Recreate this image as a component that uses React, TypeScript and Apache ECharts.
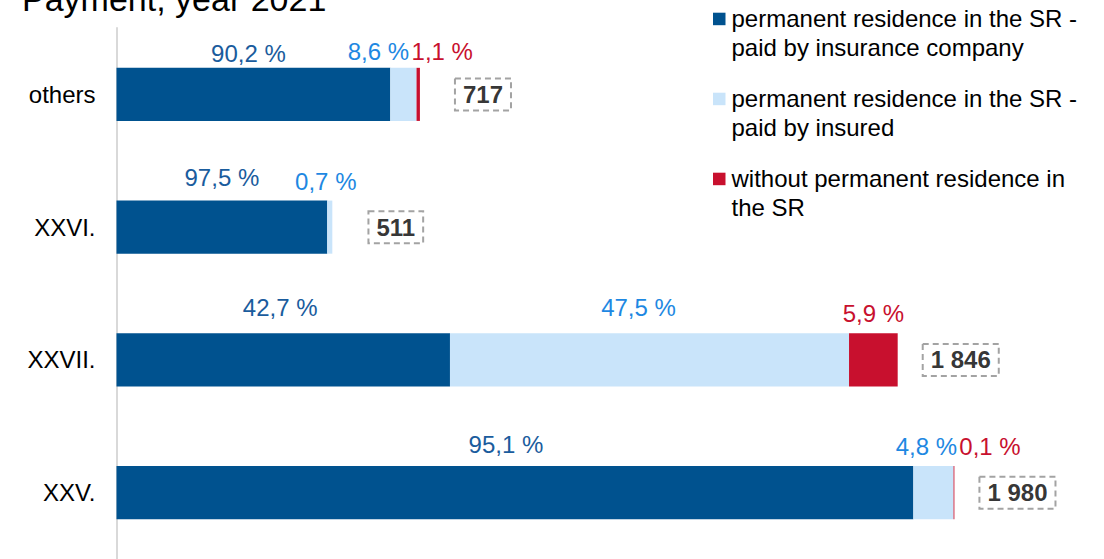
import React, { useEffect, useRef } from "react";
import * as echarts from "echarts";

// ---- data (bottom to top) ----
const categories = ["XXV.", "XXVII.", "XXVI.", "others"];
const insurerPaid = [1883, 788, 498, 647];
const selfPaid = [95, 943, 12, 62];
const nonResident = [2, 115, 0, 8];
const insurerPct = ["95,1", "42,7", "97,5", "90,2"];
const selfPct = ["4,8", "47,5", "0,7", "8,6"];
const nonResPct = ["0,1", "5,9", "", "1,1"];
const totals = [1980, 1846, 511, 717];
const seriesNames = [
  "permanent residence in the SR -\npaid by insurance company",
  "permanent residence in the SR -\npaid by insured",
  "without permanent residence in\nthe SR",
];
const titleText = "Payment, year 2021";

// ---- styles / layout ----
const FONT = "'Liberation Sans', Arial, Helvetica, sans-serif";
const barColors = ["#00528f", "#c9e4fa", "#c8102e"];
const labelColors = ["#1a5c9d", "#1e88e2", "#c8102e"];
const insurerOffsets = [[-9, -9], [-3, -13], [0, -10], [-5, -1]];
const selfOffsets = [[-7, -7], [-11, -13], [-4, -6], [-25, -3]];
const nonResOffsets = [[36, -7], [0, -7], [0, 0], [24, -3]];
const TOTAL_SHIFT = 149;

const fmtThousands = (v: number) => String(v).replace(/\B(?=(\d{3})+(?!\d))/g, " ");

function barSeries(name: string, values: number[], pct: string[], offsets: number[][], idx: number) {
  return {
    name,
    type: "bar",
    stack: "total",
    barWidth: "40%",
    itemStyle: { color: barColors[idx] },
    emphasis: { disabled: true },
    data: values.map((v, i) => ({
      value: v,
      label: { show: pct[i] !== "", offset: offsets[i] },
    })),
    label: {
      show: true,
      position: "top",
      distance: 0,
      fontSize: 24,
      lineHeight: 26,
      color: labelColors[idx],
      fontFamily: FONT,
      formatter: (p: any) => (pct[p.dataIndex] ? pct[p.dataIndex] + " %" : ""),
    },
  };
}

export default function App() {
  const ref = useRef<HTMLDivElement>(null);
  useEffect(() => {
    document.body.style.margin = "0";
    const chart = echarts.init(ref.current as HTMLDivElement, null, { renderer: "svg" });

    const legendGraphics: any[] = seriesNames.map((n, i) => ({
      type: "group",
      x: 713,
      y: 12.7 + i * 80,
      children: [
        { type: "rect", shape: { x: 0, y: 0, width: 12.5, height: 12.5 }, style: { fill: barColors[i] } },
        {
          type: "text",
          x: 18.5,
          y: -8,
          style: {
            text: n,
            fontSize: 24,
            lineHeight: 28.5,
            fontFamily: FONT,
            fill: "#000",
            verticalAlign: "top",
          },
        },
      ],
    }));

    chart.setOption({
      animation: false,
      textStyle: { fontFamily: FONT },
      grid: { left: 116.5, top: 28, width: 931, height: 536, containLabel: false },
      xAxis: { type: "value", min: 0, max: 2200, show: false },
      yAxis: {
        type: "category",
        data: categories,
        axisLine: { show: true, lineStyle: { color: "#d9d9d9", width: 2 } },
        axisTick: { show: false },
        splitLine: { show: false },
        axisLabel: { fontSize: 24, color: "#000", margin: 21, fontFamily: FONT },
      },
      graphic: [
        {
          type: "text",
          x: 22,
          y: -1.5,
          style: { text: titleText, fontSize: 34, fontFamily: FONT, fill: "#000", verticalAlign: "middle" },
        },
        ...legendGraphics,
      ],
      series: [
        barSeries(seriesNames[0], insurerPaid, insurerPct, insurerOffsets, 0),
        barSeries(seriesNames[1], selfPaid, selfPct, selfOffsets, 1),
        barSeries(seriesNames[2], nonResident, nonResPct, nonResOffsets, 2),
        {
          type: "scatter",
          symbolSize: 0,
          silent: true,
          emphasis: { disabled: true },
          data: totals.map((t, i) => [t + TOTAL_SHIFT, i]),
          label: {
            show: true,
            position: "inside",
            fontSize: 24,
            fontWeight: "bold",
            color: "#000",
            fontFamily: FONT,
            borderColor: "#8c8c8c",
            borderWidth: 2,
            borderType: [6, 4],
            padding: [4, 8],
            formatter: (p: any) => fmtThousands(totals[p.dataIndex]),
          },
        },
      ],
    });
    return () => chart.dispose();
  }, []);
  return <div ref={ref} style={{ width: 1104, height: 559 }} />;
}
